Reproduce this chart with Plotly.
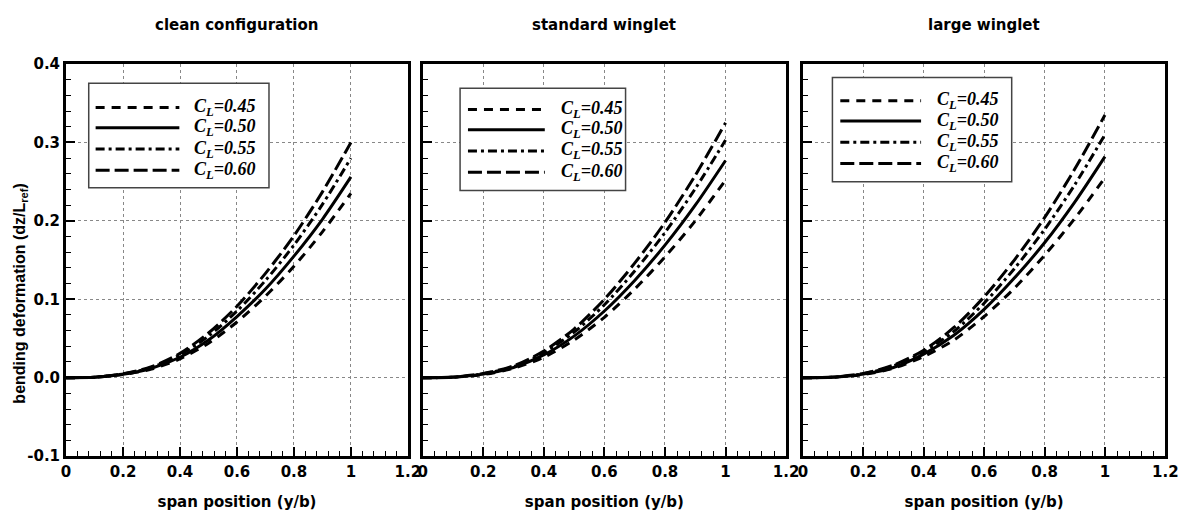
import plotly.graph_objects as go

W, H = 1202, 523

# ---------------- data ----------------
span = [0.0, 0.1, 0.2, 0.3, 0.4, 0.5, 0.6, 0.7, 0.8, 0.9, 1.0]
cl_labels = ["0.45", "0.50", "0.55", "0.60"]
panel_titles = ["clean configuration", "standard winglet", "large winglet"]
x_tickvals = [0, 0.2, 0.4, 0.6, 0.8, 1.0, 1.2]
x_ticktext = ["0", "0.2", "0.4", "0.6", "0.8", "1", "1.2"]
y_tickvals = [-0.1, 0.0, 0.1, 0.2, 0.3, 0.4]
y_ticktext = ["-0.1", "0.0", "0.1", "0.2", "0.3", "0.4"]

clean_045 = [0, 0.0005, 0.0040, 0.011, 0.024, 0.044, 0.071, 0.104, 0.142, 0.186, 0.235]
clean_050 = [0, 0.0005, 0.0043, 0.012, 0.026, 0.048, 0.078, 0.113, 0.155, 0.202, 0.256]
clean_055 = [0, 0.0006, 0.0047, 0.013, 0.029, 0.053, 0.085, 0.124, 0.169, 0.221, 0.280]
clean_060 = [0, 0.0006, 0.0050, 0.014, 0.031, 0.057, 0.091, 0.133, 0.181, 0.237, 0.300]

std_045 = [0, 0.0005, 0.0040, 0.012, 0.026, 0.048, 0.077, 0.113, 0.154, 0.200, 0.252]
std_050 = [0, 0.0005, 0.0045, 0.013, 0.029, 0.053, 0.085, 0.124, 0.169, 0.220, 0.277]
std_055 = [0, 0.0006, 0.0050, 0.014, 0.032, 0.058, 0.093, 0.136, 0.185, 0.241, 0.303]
std_060 = [0, 0.0007, 0.0053, 0.015, 0.034, 0.062, 0.100, 0.146, 0.198, 0.258, 0.325]

large_045 = [0, 0.0005, 0.0040, 0.012, 0.027, 0.048, 0.078, 0.114, 0.156, 0.203, 0.255]
large_050 = [0, 0.0006, 0.0045, 0.013, 0.030, 0.054, 0.087, 0.127, 0.172, 0.224, 0.282]
large_055 = [0, 0.0006, 0.0050, 0.015, 0.033, 0.059, 0.095, 0.139, 0.189, 0.246, 0.310]
large_060 = [0, 0.0007, 0.0054, 0.016, 0.035, 0.064, 0.103, 0.150, 0.204, 0.266, 0.335]

panels = [
    [clean_045, clean_050, clean_055, clean_060],
    [std_045, std_050, std_055, std_060],
    [large_045, large_050, large_055, large_060],
]

# ---------------- styling ----------------
dashes = ["9px,7px", "solid", "9px,4px,3px,4px", "14px,5px"]
LW = 3
panel_px = [(62, 409), (424, 793), (810, 1178)]
TOP, BOT = 57, 463
legend_px = [
    dict(box=(23, 20, 206, 128), lx=(30, 115), tx=128, rows=(45, 66, 88, 110)),
    dict(box=(38, 25, 206, 131), lx=(46, 124), tx=138, rows=(47, 68, 90, 112)),
    dict(box=(30, 14, 212, 122), lx=(38, 120), tx=134, rows=(38, 59, 81, 103)),
]

SANS = "DejaVu Sans"
TICKFONT = dict(family=SANS, size=15, color="black", weight="bold")
LABFONT = dict(family=SANS, size=15, color="black", weight="bold")
fig = go.Figure()

for p, series in enumerate(panels):
    xa = "x" if p == 0 else f"x{p+1}"
    ya = "y" if p == 0 else f"y{p+1}"
    for s, vals in enumerate(series):
        fig.add_trace(go.Scatter(
            x=span, y=vals, mode="lines", xaxis=xa, yaxis=ya,
            line=dict(color="black", width=LW, dash=dashes[s], shape="spline", smoothing=0.8),
            showlegend=False, hoverinfo="skip"))

layout = dict(
    width=W, height=H, margin=dict(l=0, r=0, t=0, b=0),
    paper_bgcolor="white", plot_bgcolor="white", showlegend=False,
)
shapes, annotations = [], []
ydom = [1 - BOT / H, 1 - TOP / H]
for p in range(3):
    x0, x1 = panel_px[p]
    xkey = "xaxis" if p == 0 else f"xaxis{p+1}"
    ykey = "yaxis" if p == 0 else f"yaxis{p+1}"
    xref = "x" if p == 0 else f"x{p+1}"
    yref = "y" if p == 0 else f"y{p+1}"
    layout[xkey] = dict(
        domain=[x0 / W, x1 / W], range=[0, 1.2], anchor=yref,
        tickvals=x_tickvals, ticktext=x_ticktext, tickfont=TICKFONT,
        ticks="inside", ticklen=9, tickwidth=2, tickcolor="black",
        minor=dict(dtick=0.04, tick0=0, ticks="inside", ticklen=5, tickwidth=1, tickcolor="black", showgrid=False),
        showline=True, linewidth=3, linecolor="black", mirror=True,
        showgrid=True, gridcolor="#888", griddash="dot", gridwidth=1,
        zeroline=False,
        title=dict(text="span position (y/b)", font=LABFONT, standoff=17),
    )
    layout[ykey] = dict(
        domain=ydom, range=[-0.1, 0.4], anchor=xref,
        tickvals=y_tickvals, ticktext=y_ticktext, tickfont=TICKFONT,
        showticklabels=(p == 0),
        ticks="inside", ticklen=9, tickwidth=2, tickcolor="black",
        minor=dict(dtick=0.02, tick0=0, ticks="inside", ticklen=5, tickwidth=1, tickcolor="black", showgrid=False),
        showline=True, linewidth=3, linecolor="black", mirror=True,
        showgrid=True, gridcolor="#888", griddash="dot", gridwidth=1,
        zeroline=False,
    )

    annotations.append(dict(
        text=panel_titles[p], xref="paper", yref="paper",
        x=(x0 + x1) / 2 / W, y=1 - 17 / H, xanchor="center", yanchor="middle",
        showarrow=False, font=LABFONT))

    pw, ph = x1 - x0, BOT - TOP
    lg = legend_px[p]
    dx = lambda v, pw=pw: v / pw
    dy = lambda v, ph=ph: 1 - v / ph
    bx0, by0, bx1, by1 = lg["box"]
    xd, yd = f"{xref} domain", f"{yref} domain"
    shapes.append(dict(type="rect", xref=xd, yref=yd, x0=dx(bx0), x1=dx(bx1), y0=dy(by1), y1=dy(by0),
                       line=dict(color="#444", width=1.5), fillcolor="white", layer="above"))
    for s in range(4):
        ry = dy(lg["rows"][s])
        shapes.append(dict(type="line", xref=xd, yref=yd, x0=dx(lg["lx"][0]), x1=dx(lg["lx"][1]), y0=ry, y1=ry,
                           line=dict(color="black", width=LW, dash=dashes[s]), layer="above"))
        annotations.append(dict(
            text=f"<b><i>C<sub>L</sub>={cl_labels[s]}</i></b>", xref=xd, yref=yd,
            x=dx(lg["tx"]), y=ry, xanchor="left", yanchor="middle", showarrow=False,
            font=dict(family="Liberation Serif", size=18, color="black")))

# y-axis title (rotated), placed left of the tick labels
annotations.append(dict(
    text="bending deformation (dz/L<sub>ref</sub>)", xref="paper", yref="paper",
    x=16 / W, y=1 - 294 / H, xanchor="center", yanchor="middle", textangle=-90,
    showarrow=False, font=dict(family="Liberation Sans", size=16, color="black", weight="bold")))

layout["shapes"] = shapes
layout["annotations"] = annotations
fig.update_layout(**layout)
fig.write_html("out.html")
